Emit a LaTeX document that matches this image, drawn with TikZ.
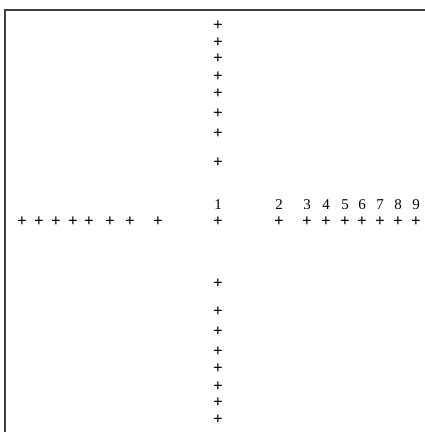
\documentclass[tikz,border=0pt]{standalone}
\usepackage{fontspec}
\setmainfont{Liberation Serif}
\usetikzlibrary{positioning}

\begin{document}
\begin{tikzpicture}[
    x=1pt, y=-1pt,
    mark sign/.style={inner sep=0pt, font=\fontsize{17}{17}\selectfont\bfseries},
    every label/.style={inner sep=0pt, font=\fontsize{15}{15}\selectfont},
    label distance=7pt,
  ]
    \useasboundingbox (0,0) rectangle (425,432);
    \draw[line width=1.5pt, black!75] (5,432) -- (5,10) -- (425,10);

    % centre and the four arms
    \node[mark sign, label=above:1] (c) at (218,222) {+};
    \foreach \x [count=\i from 2] in {279,307,326,345,362,380,398,416}
      \node[mark sign, label=above:\i] (r\i) at (\x,222) {+};
    \foreach \x [count=\i] in {158,130,110,89,73,56,39,22}
      \node[mark sign] (l\i) at (\x,222) {+};
    \foreach \y [count=\i] in {163,134,114,94,77,59,43,26}
      \node[mark sign] (t\i) at (218,\y) {+};
    \foreach \y [count=\i] in {284,312,332,352,369,387,403,420}
      \node[mark sign] (b\i) at (218,\y) {+};
  \end{tikzpicture}
\end{document}
